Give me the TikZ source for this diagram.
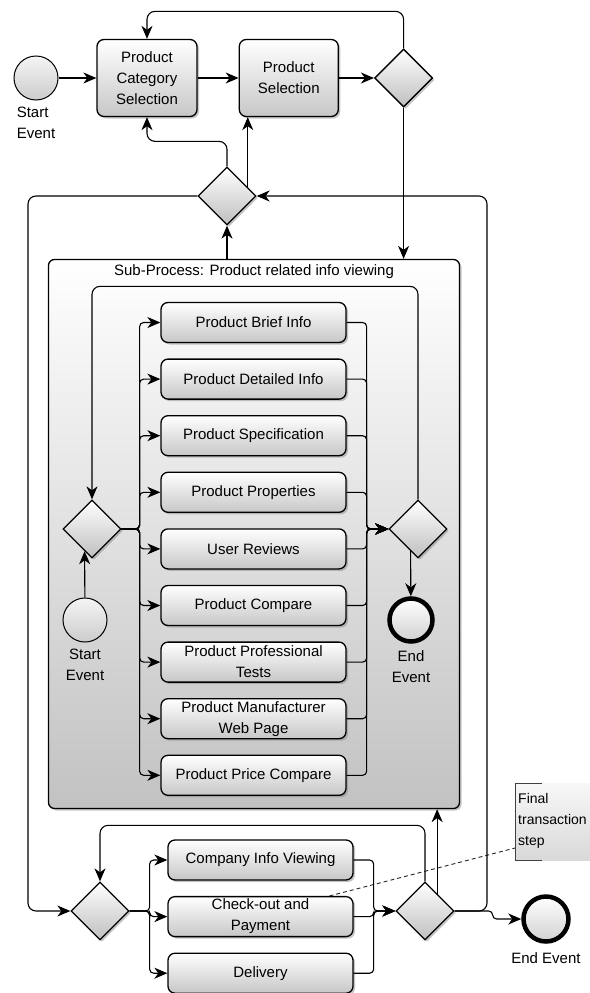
\documentclass[tikz,border=0pt]{standalone}
\usepackage{fontspec}
\setmainfont{Liberation Sans}
\usepackage{tikz}
\usetikzlibrary{positioning,shapes.geometric,shadows,arrows.meta,calc}
\tikzstyle{arrow} = [-{Stealth[length=13pt,width=11pt,inset=4pt]}, line width=1.1pt, rounded corners=4pt]
\tikzstyle{task} = [draw, line width=1.3pt, rounded corners=7pt, top color=white, bottom color=black!22, drop shadow={shadow xshift=2pt, shadow yshift=-2pt, opacity=.45}, minimum width=185pt, minimum height=40pt, inner sep=2pt, align=center]
\tikzstyle{gateway} = [diamond, aspect=1, draw, line width=1.3pt, top color=white, bottom color=black!25, drop shadow={shadow xshift=2pt, shadow yshift=-2pt, opacity=.45}, minimum width=58pt, minimum height=58pt, inner sep=0pt]
\tikzstyle{startevent} = [circle, draw, line width=1pt, top color=black!4, bottom color=black!20, minimum size=44pt, inner sep=0pt]
\tikzstyle{endevent} = [circle, draw, line width=4.5pt, top color=white, bottom color=black!18, minimum size=44pt, inner sep=0pt]

\begin{document}
\begin{tikzpicture}[x=1pt, y=-1pt, node distance=15.3pt, every node/.style={font=\fontsize{15}{21}\selectfont}]
	\useasboundingbox (0,0) rectangle (589,993);

	% top lane
	\node[startevent] (sevent) at (36,78) {};
	\node[align=left, below=3pt of sevent] (sevlbl) {Start\\Event};
	\node[task, minimum width=100pt, minimum height=77pt] (catsel) at (147,78) {Product\\Category\\Selection};
	\node[task, minimum width=99pt, minimum height=77pt, right=41pt of catsel] (prodsel) {Product\\Selection};
	\node[gateway, right=35pt of prodsel] (gw1) {};
	\node[gateway] (gw2) at (227,196) {};

	% sub-process
	\node[draw, line width=1.3pt, rounded corners=6pt, top color=white, bottom color=black!24, drop shadow={shadow xshift=2pt, shadow yshift=-2pt, opacity=.45}, minimum width=411pt, minimum height=549pt] (sub) at (254,534) {};
	\node (subtitle) at ([yshift=-13pt]sub.north) {Sub-Process: Product related info viewing};
	\node[task] (t1) at (253.5,322.5) {Product Brief Info};
	\foreach \name [count=\i from 2, evaluate=\i as \j using int(\i-1)] in {Product Detailed Info, Product Specification, Product Properties, User Reviews, Product Compare, {Product Professional\\Tests}, {Product Manufacturer\\Web Page}, Product Price Compare}
		\node[task, below=of t\j] (t\i) {\name};
	\node[gateway] (split) at (92,529) {};
	\node[gateway] (merge) at (418,529) {};
	\node[startevent] (substart) at (85,620) {};
	\node[align=center, below=3pt of substart] (sslbl) {Start\\Event};
	\node[endevent, minimum size=43pt] (subend) at (411,620) {};
	\node[align=center, below=3pt of subend] (selbl) {End\\Event};

	% bottom lane
	\node[gateway] (gw3) at (100,911) {};
	\node[task] (company) at (260.5,860) {Company Info Viewing};
	\node[task, below=of company] (checkout) {Check-out and\\Payment};
	\node[task, below=of checkout] (delivery) {Delivery};
	\node[gateway] (gw4) at (425,911) {};
	\node[endevent, minimum size=45pt] (end) at (546,919) {};
	\node[below=5pt of end] (endlbl) {End Event};

	% annotation
	\node[anchor=north west, minimum width=90pt, minimum height=77pt, top color=black!3, bottom color=black!15, inner sep=0pt] (note) at (515,783) {};
	\draw[line width=0.8pt, black!75] ($(note.north west)+(27,0)$) -- (note.north west) -- (note.south west) -- ($(note.south west)+(27,0)$);
	\node[anchor=north west, align=left, inner sep=0pt, font=\fontsize{14}{21}\selectfont] (notetxt) at (518,793) {Final\\transaction\\step};
	\coordinate (assoc) at ($(checkout.north west)!0.87!(checkout.north east)$);
	\draw[dash pattern=on 4pt off 3pt, line width=0.9pt, black!85] (assoc) -- ($(note.south west)!0.16!(note.north west)$);

	% flows
	\coordinate (outl) at (28,0);
	\coordinate (outr) at (487,0);
	\draw[arrow] (sevent) -- (catsel);
	\draw[arrow] (catsel) -- (prodsel);
	\draw[arrow] (prodsel) -- (gw1);
	\draw[arrow, rounded corners=8pt] (gw1.north) -- ++(0,-37) -| (catsel.north);
	\draw[arrow] (gw1.south) -- (gw1.south |- sub.north);
	\draw[arrow] (sub.north -| gw2) -- (gw2.south);
	\draw[arrow, rounded corners=8pt] (gw2.north) -- ++(0,-25) -| (catsel.south);
	\coordinate (gw2ne) at ($(gw2.north)!0.7!(gw2.east)$);
	\draw[arrow] (gw2ne) -- (gw2ne |- prodsel.south);
	\draw[arrow, rounded corners=8pt] (gw2.west) -| (outl |- gw3.west) -- (gw3.west);
	\draw[arrow, rounded corners=8pt] (gw4.east) -| (outr |- gw2.east) -- (gw2.east);

	\foreach \i in {1,...,9} {
		\draw[arrow] (split.east) -- ++(18,0) |- (t\i.west);
		\draw[arrow] (t\i.east) -- ++(20,0) |- (merge.west);
	}
	\draw[arrow, rounded corners=8pt] (merge.north) -- ++(0,-213) -| (split.north);
	\draw[arrow] (substart) -- ($(split.south)!0.25!(split.west)$);
	\draw[arrow] ($(merge.south)!0.25!(merge.west)$) -- (subend);

	\foreach \t in {company, checkout, delivery} {
		\draw[arrow] (gw3.east) -- ++(20,0) |- (\t.west);
		\draw[arrow] (\t.east) -- ++(20,0) |- (gw4.west);
	}
	\draw[arrow, rounded corners=8pt] (gw4.north) -- ++(0,-56) -| (gw3.north);
	\coordinate (gw4ne) at ($(gw4.north)!0.41!(gw4.east)$);
	\draw[arrow] (gw4ne) -- (gw4ne |- sub.south);
	\draw[arrow] (gw4.east) -- ++(38,0) |- (end.west);
\end{tikzpicture}
\end{document}
